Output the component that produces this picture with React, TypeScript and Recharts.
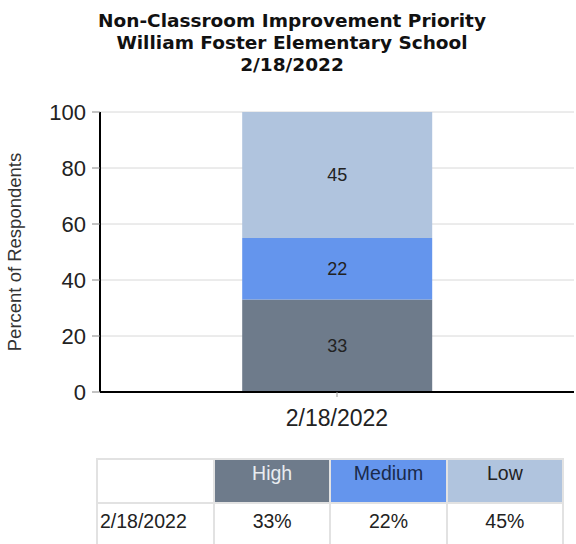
import { BarChart, Bar, XAxis, YAxis, CartesianGrid, LabelList } from 'recharts';

const dates = ['2/18/2022'];
const high = [33];
const medium = [22];
const low = [45];
const yTicks = [0, 20, 40, 60, 80, 100];

const series = [
  { key: 'High', values: high, color: '#6e7b8b', text: '#e8ecf0' },
  { key: 'Medium', values: medium, color: '#6495ed', text: '#1a2a4a' },
  { key: 'Low', values: low, color: '#b0c4de', text: '#222' },
];

const chartData = dates.map((d, i) => ({
  date: d,
  High: high[i],
  Medium: medium[i],
  Low: low[i],
}));

const font = '"Liberation Sans", Arial, sans-serif';

export default function App() {
  return (
    <div style={{ position: 'absolute', left: 0, top: 0, width: 576, height: 544, background: '#fff', fontFamily: font, overflow: 'hidden' }}>
      <div
        style={{
          position: 'absolute',
          top: 10,
          left: 4,
          width: 576,
          textAlign: 'center',
          fontFamily: '"DejaVu Sans", Verdana, sans-serif',
          fontWeight: 'bold',
          fontSize: 18.5,
          lineHeight: '22px',
          color: '#111',
        }}
      >
        <div>Non-Classroom Improvement Priority</div>
        <div>William Foster Elementary School</div>
        <div>{dates[0]}</div>
      </div>

      <div style={{ position: 'absolute', top: 0, left: 0 }}>
        <BarChart width={576} height={440} data={chartData} margin={{ top: 112, right: 2, bottom: 8, left: 0 }} barCategoryGap="30%">
          <CartesianGrid vertical={false} stroke="#d8d8d8" />
          <XAxis
            dataKey="date"
            height={40}
            axisLine={{ stroke: '#000', strokeWidth: 2 }}
            tickLine={{ stroke: '#999' }}
            tickSize={5}
            tick={{ fill: '#222', fontSize: 23, fontFamily: font }}
            tickMargin={13}
          />
          <YAxis
            width={100}
            domain={[0, 100]}
            ticks={yTicks}
            axisLine={{ stroke: '#000', strokeWidth: 2 }}
            tickLine={{ stroke: '#888' }}
            tickSize={8}
            tickMargin={6}
            tick={{ fill: '#222', fontSize: 22, fontFamily: font }}
            label={{
              value: 'Percent of Respondents',
              angle: -90,
              position: 'insideLeft',
              offset: 14,
              style: { textAnchor: 'middle', fontSize: 18.5, fill: '#333', fontFamily: font },
            }}
          />
          {series.map((s) => (
            <Bar key={s.key} dataKey={s.key} stackId="a" fill={s.color} isAnimationActive={false}>
              <LabelList dataKey={s.key} position="center" fill="#222" fontSize={18} fontFamily={font} />
            </Bar>
          ))}
        </BarChart>
      </div>

      <table
        style={{
          position: 'absolute',
          top: 458,
          left: 96,
          width: 468,
          borderCollapse: 'separate',
          borderSpacing: 2,
          background: '#e2e2e2',
          fontSize: 19.5,
          fontFamily: font,
          color: '#222',
          tableLayout: 'fixed',
        }}
      >
        <tbody>
          <tr>
            <td style={{ background: '#fff', width: 115, height: 42, padding: 0 }} />
            {series.map((s) => (
              <td
                key={s.key}
                style={{ background: s.color, color: s.text, textAlign: 'center', verticalAlign: 'top', padding: '2px 0 0 0', height: 40 }}
              >
                {s.key}
              </td>
            ))}
          </tr>
          {dates.map((d, i) => (
            <tr key={d}>
              <td style={{ background: '#fff', verticalAlign: 'top', padding: '6px 0 0 2px', height: 40 }}>{d}</td>
              {series.map((s) => (
                <td key={s.key} style={{ background: '#fff', textAlign: 'center', verticalAlign: 'top', padding: '6px 0 0 0', height: 40 }}>
                  {s.values[i]}%
                </td>
              ))}
            </tr>
          ))}
        </tbody>
      </table>
    </div>
  );
}
